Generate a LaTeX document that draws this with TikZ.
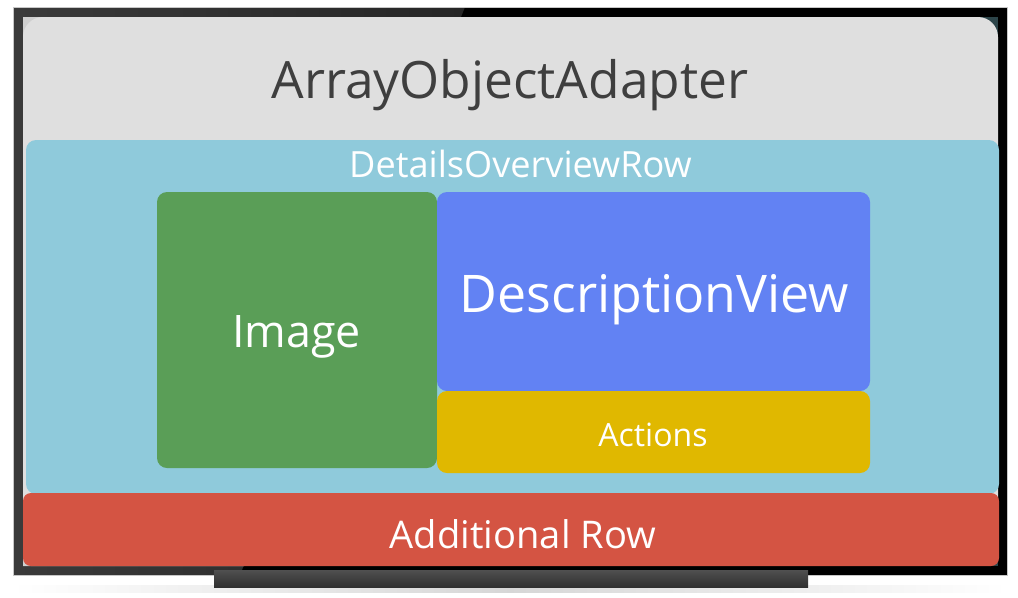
\documentclass[tikz,border=0pt]{standalone}
\usepackage{fontspec}
\setmainfont{Open Sans}
\usetikzlibrary{fit}
\definecolor{bezelgray}{HTML}{3A3A3A}
\definecolor{bezeldark}{HTML}{262626}
\definecolor{screengray}{HTML}{CFCFCF}
\definecolor{screenteal}{HTML}{2D454A}
\definecolor{panelgray}{HTML}{DFDFDF}
\definecolor{rowblue}{HTML}{8FCADB}
\definecolor{imggreen}{HTML}{5A9E57}
\definecolor{descblue}{HTML}{6282F3}
\definecolor{actyellow}{HTML}{E0B800}
\definecolor{addred}{HTML}{D45443}
\definecolor{titletext}{HTML}{3F3F3F}
\definecolor{standgray}{HTML}{3C3C3C}
\begin{document}
\begin{tikzpicture}[x=0.75pt,y=-0.75pt,
  block/.style={inner sep=0pt, outer sep=0pt, draw=none},
  lbl/.style={anchor=base, inner sep=0pt, text=white},
  fs/.style={font=\fontsize{#1}{#1}\selectfont}]
\useasboundingbox (0,0) rectangle (1018,597);
\fill[white] (0,0) rectangle (1018,597);

% soft shadow under the set
\shade[left color=white, right color=white, middle color=black!16] (13,585) rectangle (1007,592);

% bezel, with a glossy lighter band on the left
\fill[black] (13,7) rectangle (1007,575);
\shade[left color=bezelgray, right color=bezeldark] (13,7) -- (465,7) -- (240,575) -- (13,575) -- cycle;
\draw[black!22, line width=0.6pt] (13,7) rectangle (1007,575);

% screen glass
\fill[screenteal] (23,17) rectangle (998,566);
\fill[screengray] (23,17) -- (461,17) -- (244,566) -- (23,566) -- cycle;

% stand
\shade[top color=standgray!90, bottom color=standgray!80!black] (214,570) rectangle (808,587);

% adapter panel
\node[block, fit={(23,17) (998,530)}, fill=panelgray, rounded corners=15pt] (adapter) {};
\node[lbl, fs=38.6pt, text=titletext] (adaptertxt) at (510,98) {ArrayObjectAdapter};

% details overview row
\node[block, fit={(26,140) (999,494)}, fill=rowblue, rounded corners=7.5pt] (row) {};
\node[lbl, fs=27.1pt] (rowtxt) at (520.5,177) {DetailsOverviewRow};

% image
\node[block, fit={(157,192) (437,468)}, fill=imggreen, rounded corners=7.5pt] (image) {};
\node[lbl, fs=33.6pt] (imagetxt) at (296.5,347) {Image};

% description view
\node[block, fit={(437,192) (870,391)}, fill=descblue, rounded corners=7.5pt] (desc) {};
\node[lbl, fs=38.9pt] (desctxt) at (654.5,312) {DescriptionView};

% actions
\node[block, fit={(437,391) (870,473)}, fill=actyellow, rounded corners=7.5pt] (actions) {};
\node[lbl, fs=24pt] (actionstxt) at (653,446) {Actions};

% additional row
\node[block, fit={(23,493) (999,566)}, fill=addred, rounded corners=6pt] (addrow) {};
\node[lbl, fs=28.6pt] (addrowtxt) at (523,548) {Additional Row};
\end{tikzpicture}
\end{document}
